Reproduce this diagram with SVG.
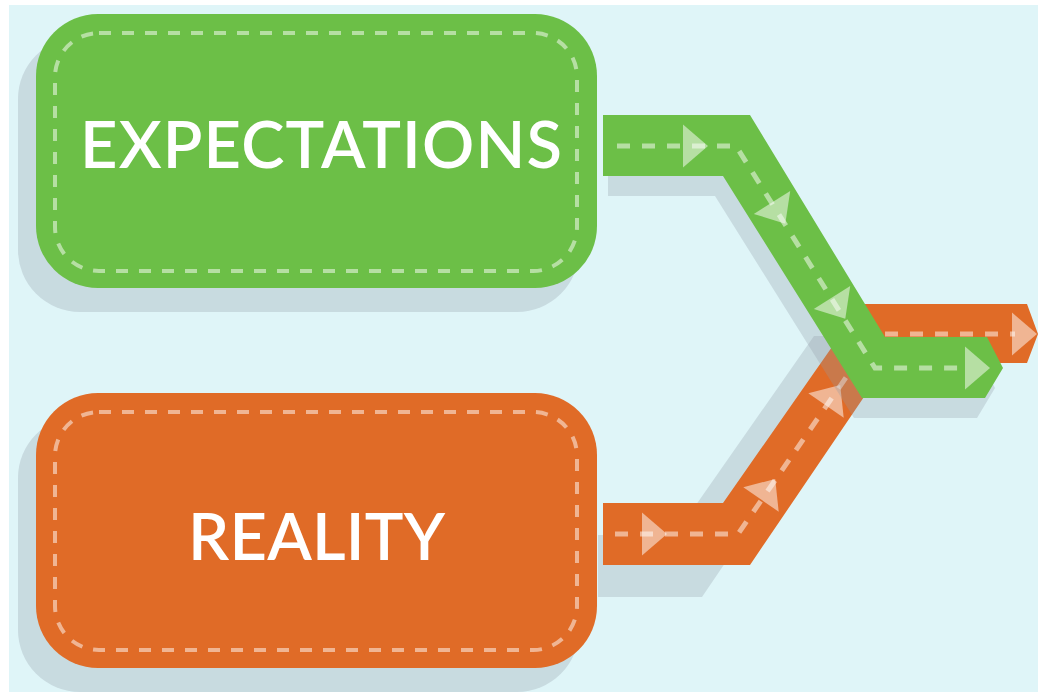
<svg xmlns="http://www.w3.org/2000/svg" xmlns:xlink="http://www.w3.org/1999/xlink" width="1038" height="694" viewBox="0 0 1038 694">
  <style>
    .shadow { fill: rgb(144,155,164); fill-opacity: 0.29; }
    .green { fill: #6cbf47; }
    .orange { fill: #e06b27; }
    .inner { fill: none; stroke: #ffffff; stroke-opacity: 0.5; stroke-width: 4; stroke-dasharray: 12 11; }
    .lane { fill: none; stroke: #ffffff; stroke-opacity: 0.5; stroke-width: 5; stroke-dasharray: 13 12; }
    .arrow { fill: #ffffff; fill-opacity: 0.5; }
    .label { font-family: Lato, "Liberation Sans", sans-serif; font-size: 65px; font-weight: 600; fill: #ffffff; text-anchor: middle; }
  </style>
  <defs>
    <path id="ah" d="M0,-21.5 L25,0 L0,21.5 Z"/>
  </defs>
  <rect x="0" y="0" width="1038" height="694" fill="#ffffff"/>
  <rect x="9" y="5" width="1029" height="687" fill="#dff5f8"/>

  <g id="node-expectations">
    <rect class="shadow" x="18" y="37" width="561" height="275" rx="62"/>
    <rect class="green" x="36" y="14" width="561" height="274" rx="62"/>
    <rect class="inner" x="55" y="33" width="522" height="238" rx="44"/>
    <text class="label" x="321" y="168" textLength="482">EXPECTATIONS</text>
  </g>

  <g id="node-reality">
    <rect class="shadow" x="18" y="416" width="561" height="276" rx="62"/>
    <rect class="orange" x="36" y="393" width="561" height="275" rx="62"/>
    <rect class="inner" x="55" y="412" width="522" height="238" rx="44"/>
    <text class="label" x="316.5" y="560" textLength="257">REALITY</text>
  </g>

  <g id="connectors">
    <g id="reality-path">
      <polygon class="shadow" points="598,535 675,535 814,336 979,336 990,366 979,395 839,395 702,597 598,597"/>
      <polygon class="orange" points="603,503 723,503 862,304 1027,304 1038,334 1027,363 887,363 750,565 603,565"/>
      <path class="lane" d="M615,534 H738 L876,334 H1015"/>
      <use xlink:href="#ah" class="arrow" transform="translate(642,534)"/>
      <use xlink:href="#ah" class="arrow" transform="translate(761,499.5) rotate(-55.4)"/>
      <use xlink:href="#ah" class="arrow" transform="translate(826,405.5) rotate(-55.4)"/>
      <use xlink:href="#ah" class="arrow" transform="translate(1012,334)"/>
    </g>
    <g id="expectations-path">
      <polygon class="shadow" points="608,135 742,135 877,357 979,357 995,388 977,418 854,418 715,196 608,196"/>
      <polygon class="green" points="603,115 750,115 885,337 987,337 1003,368 985,398 862,398 723,176 603,176"/>
      <path class="lane" d="M617,146 H736 L875,368 H966"/>
      <use xlink:href="#ah" class="arrow" transform="translate(683,146)"/>
      <use xlink:href="#ah" class="arrow" transform="translate(772,202.5) rotate(57.9)"/>
      <use xlink:href="#ah" class="arrow" transform="translate(832,297.5) rotate(57.9)"/>
      <use xlink:href="#ah" class="arrow" transform="translate(965,368)"/>
    </g>
  </g>
</svg>
